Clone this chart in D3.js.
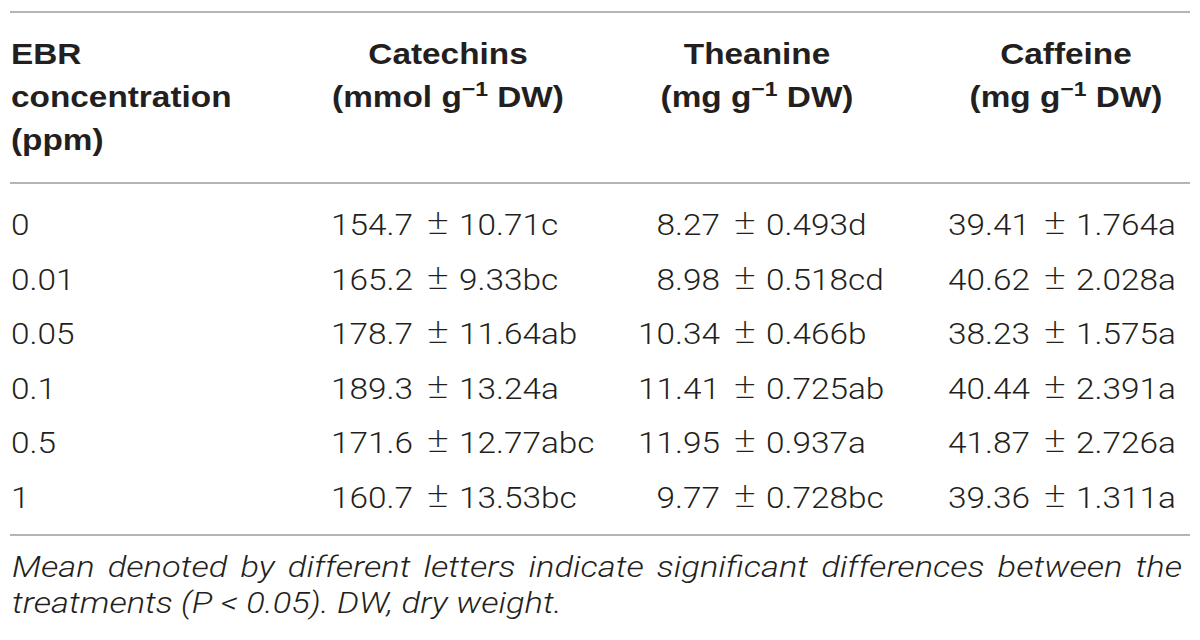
<!DOCTYPE html>
<html><head><meta charset="utf-8">
<script src="https://cdn.jsdelivr.net/npm/d3@7"></script>
<style>body{margin:0;background:#fff}svg{display:block}</style>
</head><body><svg id="c" width="1200" height="640"></svg>
<script>
const concentrations = ["0", "0.01", "0.05", "0.1", "0.5", "1"];
const columns = ["Catechins", "Theanine", "Caffeine"];
const units = ["mmol", "mg", "mg"];
const catechinMean = [154.7, 165.2, 178.7, 189.3, 171.6, 160.7];
const catechinSD = [10.71, 9.33, 11.64, 13.24, 12.77, 13.53];
const catechinLetters = ["c", "bc", "ab", "a", "abc", "bc"];
const theanineMean = [8.27, 8.98, 10.34, 11.41, 11.95, 9.77];
const theanineSD = [0.493, 0.518, 0.466, 0.725, 0.937, 0.728];
const theanineLetters = ["d", "cd", "b", "ab", "a", "bc"];
const caffeineMean = [39.41, 40.62, 38.23, 40.44, 41.87, 39.36];
const caffeineSD = [1.764, 2.028, 1.575, 2.391, 2.726, 1.311];
const caffeineLetters = ["a", "a", "a", "a", "a", "a"];
const firstHeader = ["EBR", "concentration", "(ppm)"];
const footnote = [
  "Mean denoted by different letters indicate significant differences between the",
  "treatments (P < 0.05). DW, dry weight."
];

const series = [
  {mean: catechinMean, sd: catechinSD, letters: catechinLetters, fm: d3.format(".1f"), fs: d3.format(".2f")},
  {mean: theanineMean, sd: theanineSD, letters: theanineLetters, fm: d3.format(".2f"), fs: d3.format(".3f")},
  {mean: caffeineMean, sd: caffeineSD, letters: caffeineLetters, fm: d3.format(".2f"), fs: d3.format(".3f")}
];

const svg = d3.select("#c");
const SX = 1.15;
const BODY = "Roboto, 'Liberation Sans', sans-serif";
const HEAD = "'Liberation Sans', Arial, sans-serif";
const INK = "#231f20";

const y = d3.scalePoint().domain(concentrations).range([235, 507.5]);
const pmX = d3.scaleOrdinal().domain(columns).range([438, 745, 1055]);
const headX = d3.scaleOrdinal().domain(columns).range([448, 757, 1066]);

function stext(x, yy, anchor, font, size, weight, style) {
  const g = svg.append("g").attr("transform", `translate(${x},${yy}) scale(${SX},1)`);
  return g.append("text")
    .attr("text-anchor", anchor)
    .attr("font-family", font)
    .attr("font-size", size)
    .attr("font-weight", weight)
    .attr("font-style", style || "normal")
    .attr("fill", INK);
}

// rules
svg.selectAll("line.rule").data([12, 183, 535]).join("line")
  .attr("class", "rule")
  .attr("x1", 10).attr("x2", 1190)
  .attr("y1", d => d).attr("y2", d => d)
  .attr("stroke", "#b5b5b5").attr("stroke-width", 2);

// header
const headBase = [64, 107, 150];
firstHeader.forEach((t, i) => {
  stext(11, headBase[i], "start", HEAD, 29, "bold").text(t);
});
columns.forEach((c, i) => {
  stext(headX(c), headBase[0], "middle", HEAD, 29, "bold").text(c);
  const t = stext(headX(c), headBase[1], "middle", HEAD, 29, "bold");
  t.append("tspan").text("(" + units[i] + " g");
  t.append("tspan").attr("font-size", 20).attr("dy", -11).text("\u22121");
  t.append("tspan").attr("dy", 11).text(" DW)");
});

// body
concentrations.forEach((c, r) => {
  stext(11, y(c), "start", BODY, 29, 300).text(c);
  columns.forEach((col, k) => {
    const s = series[k];
    const px = pmX(col);
    stext(px - 25, y(c), "end", BODY, 29, 300).text(s.fm(s.mean[r]));
    stext(px, y(c) - 1, "middle", BODY, 36, 200).text("\u00b1");
    stext(px + 21, y(c), "start", BODY, 29, 300).text(s.fs(s.sd[r]) + s.letters[r]);
  });
});

// footnote (justified first line)
const footBase = [577, 613];
{
  const words = footnote[0].split(" ");
  const nodes = words.map(w => stext(0, footBase[0], "start", BODY, 30, 300, "italic").text(w));
  const widths = nodes.map(n => n.node().getComputedTextLength() * SX);
  const total = d3.sum(widths);
  const gap = (1182 - 12 - total) / (words.length - 1);
  let x = 12;
  nodes.forEach((n, i) => {
    d3.select(n.node().parentNode).attr("transform", `translate(${x},${footBase[0]}) scale(${SX},1)`);
    x += widths[i] + gap;
  });
}
stext(12, footBase[1], "start", BODY, 30, 300, "italic").text(footnote[1]);
</script></body></html>
